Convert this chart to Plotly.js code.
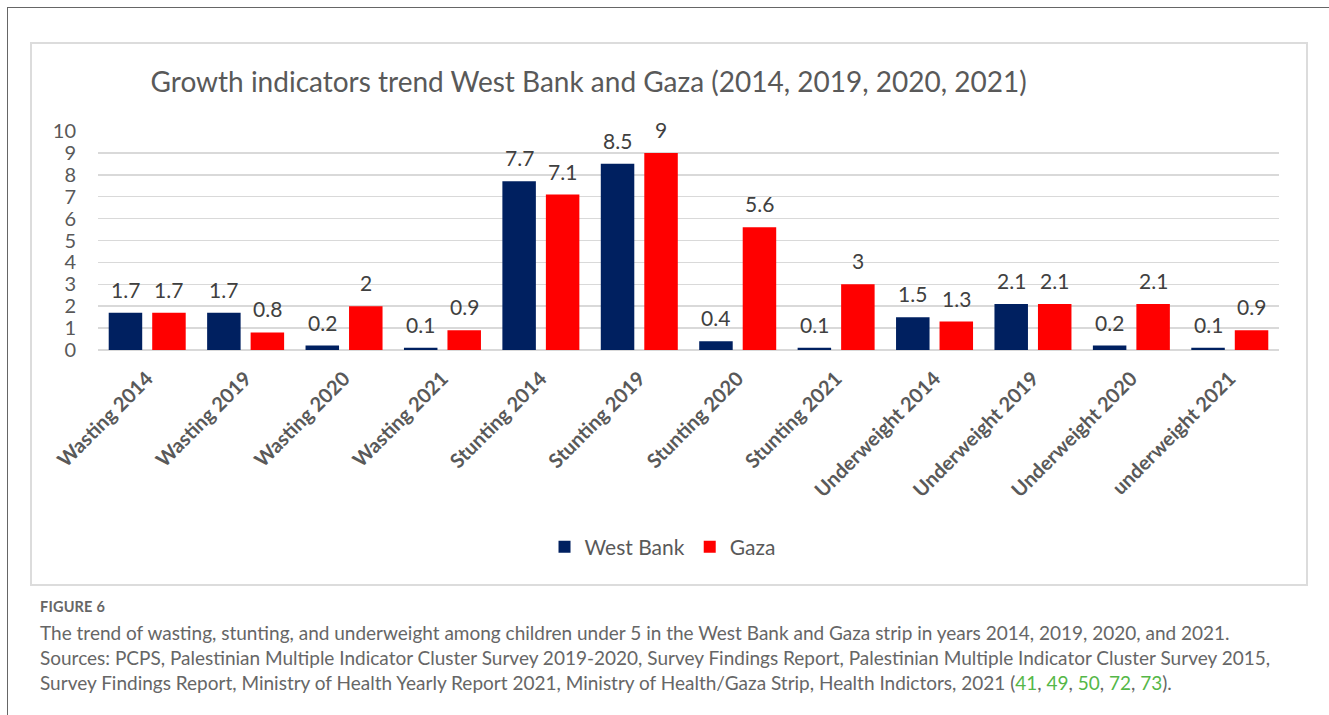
<!DOCTYPE html>
<html>
<head>
<meta charset="utf-8">
<script src="https://cdn.plot.ly/plotly-3.0.1.min.js"></script>
<style>
  html, body { margin:0; padding:0; background:#ffffff; width:1329px; height:715px; overflow:hidden; }
  #frameL { position:absolute; left:7px; top:7px; width:1px; height:708px; background:#666; }
  #frameT { position:absolute; left:7px; top:7px; width:1322px; height:1px; background:#666; }
  #box { position:absolute; left:30px; top:42px; width:1278px; height:544px; border:2px solid #dcdcdc; box-sizing:border-box; }
  #chart { position:absolute; left:31px; top:43px; width:1276px; height:542px; }
  #figlabel { position:absolute; left:40px; top:598px; font-family:Lato, sans-serif; font-weight:700; font-size:14.5px; color:#666; letter-spacing:0.2px; }
  #caption { position:absolute; left:40px; top:620px; font-family:Lato, sans-serif; font-size:19px; line-height:25px; color:#666; white-space:nowrap; }
  #caption .ref { color:#55b748; }
</style>
</head>
<body>
<div id="frameL"></div>
<div id="frameT"></div>
<div id="box"></div>
<div id="chart"></div>
<div id="figlabel">FIGURE 6</div>
<div id="caption">The trend of wasting, stunting, and underweight among children under 5 in the West Bank and Gaza strip in years 2014, 2019, 2020, and 2021.<br>Sources: PCPS, Palestinian Multiple Indicator Cluster Survey 2019-2020, Survey Findings Report, Palestinian Multiple Indicator Cluster Survey 2015,<br>Survey Findings Report, Ministry of Health Yearly Report 2021, Ministry of Health/Gaza Strip, Health Indictors, 2021 (<span class="ref">41</span>, <span class="ref">49</span>, <span class="ref">50</span>, <span class="ref">72</span>, <span class="ref">73</span>).</div>
<script>
const categories = ['Wasting 2014','Wasting 2019','Wasting 2020','Wasting 2021','Stunting 2014','Stunting 2019','Stunting 2020','Stunting 2021','Underweight 2014','Underweight 2019','Underweight 2020','underweight 2021'];
const westBank = [1.7, 1.7, 0.2, 0.1, 7.7, 8.5, 0.4, 0.1, 1.5, 2.1, 0.2, 0.1];
const gaza = [1.7, 0.8, 2, 0.9, 7.1, 9, 5.6, 3, 1.3, 2.1, 2.1, 0.9];
const seriesNames = ['West Bank', 'Gaza'];
const yTicks = [0,1,2,3,4,5,6,7,8,9,10];

const FONT = 'Lato, "Open Sans", sans-serif';
const GREY = '#595959';

const traces = [
  { type:'bar', name:seriesNames[0], x:categories, y:westBank, marker:{color:'#002060'}, hoverinfo:'skip' },
  { type:'bar', name:seriesNames[1], x:categories, y:gaza, marker:{color:'#ff0000'}, hoverinfo:'skip' }
];

const labelAnn = [];
const SHIFT = 21.75;
[westBank, gaza].forEach((vals, si) => {
  vals.forEach((v, i) => {
    labelAnn.push({
      x: categories[i], y: v, xref:'x', yref:'y',
      text: String(v), showarrow:false,
      xanchor:'center', yanchor:'bottom',
      xshift: si === 0 ? -SHIFT : SHIFT, yshift: 9,
      font:{family:FONT, size:21, color:'#404040'}
    });
  });
});

const layout = {
  width:1276, height:542,
  paper_bgcolor:'rgba(0,0,0,0)', plot_bgcolor:'rgba(0,0,0,0)',
  margin:{l:67, r:28, t:88, b:235},
  title:{text:'Growth indicators trend West Bank and Gaza (2014, 2019, 2020, 2021)',
    xref:'container', yref:'container', x:0.437, y:0.928, xanchor:'center', yanchor:'middle',
    font:{family:FONT, size:28, color:GREY}},
  barmode:'group', bargap:0.116, bargroupgap:0.23,
  xaxis:{type:'category', tickangle:-45, showgrid:false, showline:false, zeroline:false,
    ticks:'outside', ticklen:8, tickcolor:'rgba(0,0,0,0)',
    tickfont:{family:FONT, size:20, color:GREY, weight:700}},
  yaxis:{range:[0,10], tickvals:yTicks, showgrid:true, gridcolor:'#d9d9d9', gridwidth:1.5,
    zeroline:true, zerolinecolor:'#d9d9d9', zerolinewidth:1.5, showline:false,
    ticks:'outside', ticklen:17, tickcolor:'rgba(0,0,0,0)',
    tickfont:{family:FONT, size:20, color:GREY}},
  showlegend:true,
  legend:{orientation:'h', x:0.478, xanchor:'center', y:-0.9, yanchor:'middle',
    font:{family:FONT, size:21, color:GREY}, itemwidth:30, bgcolor:'rgba(0,0,0,0)'},
  annotations: labelAnn
};

Plotly.newPlot('chart', traces, layout, {displayModeBar:false, staticPlot:true});
</script>
</body>
</html>
